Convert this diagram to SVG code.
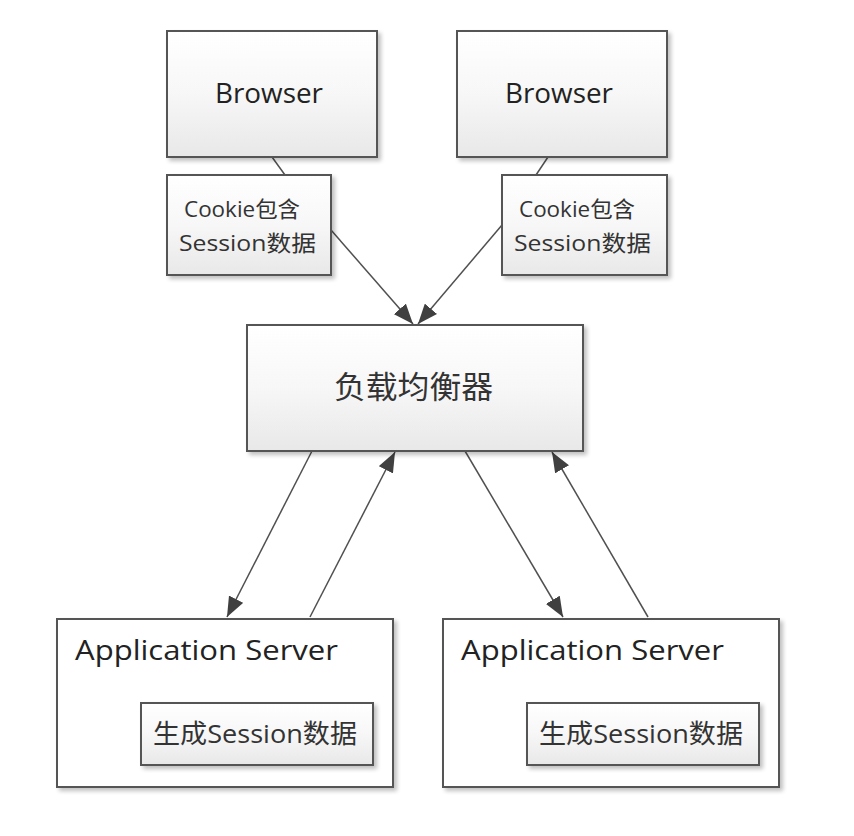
<svg xmlns="http://www.w3.org/2000/svg" width="854" height="836" viewBox="0 0 854 836">
<defs>
<linearGradient id="g" x1="0" y1="0" x2="0" y2="1">
<stop offset="0" stop-color="#ffffff"/>
<stop offset="0.5" stop-color="#f7f7f7"/>
<stop offset="1" stop-color="#e8e8e8"/>
</linearGradient>
<filter id="sh" x="-10%" y="-10%" width="130%" height="130%">
<feGaussianBlur in="SourceAlpha" stdDeviation="2"/>
<feOffset dx="3" dy="3"/>
<feComponentTransfer><feFuncA type="linear" slope="0.25"/></feComponentTransfer>
<feMerge><feMergeNode/><feMergeNode in="SourceGraphic"/></feMerge>
</filter>
<marker id="ah2" viewBox="0 0 20 16" refX="20" refY="8" markerWidth="20" markerHeight="16" markerUnits="userSpaceOnUse" orient="auto">
<path d="M0,0 L20,8 L0,16 Z" fill="#404040"/>
</marker>
</defs>
<style>
.box{fill:url(#g);stroke:#555;stroke-width:2;filter:url(#sh)}
.plain{fill:#fff;stroke:#555;stroke-width:2;filter:url(#sh)}
.t{font-family:"Open Sans","Noto Sans CJK SC",sans-serif;fill:#222}
.c{font-family:"Open Sans","Noto Sans CJK SC",sans-serif;fill:#333}
.ln{stroke:#505050;stroke-width:1.5;fill:none}
.arr{stroke:#505050;stroke-width:1.5;fill:none;marker-end:url(#ah2)}
</style>
<rect width="854" height="836" fill="#fff"/>
<g id="connectors">
<line class="ln" x1="272" y1="157" x2="285" y2="175"/>
<line class="ln" x1="548" y1="157" x2="536" y2="175"/>
<line class="arr" x1="331" y1="230" x2="413" y2="324"/>
<line class="arr" x1="502" y1="225" x2="418" y2="324"/>
<line class="arr" x1="312" y1="451" x2="227" y2="617"/>
<line class="arr" x1="310" y1="617" x2="395" y2="452"/>
<line class="arr" x1="465" y1="451" x2="563" y2="617"/>
<line class="arr" x1="648" y1="617" x2="552" y2="452"/>
</g>
<g id="browser1">
<rect class="box" x="167" y="31" width="210" height="126"/>
<text class="t" x="215" y="103" font-size="27" textLength="108" lengthAdjust="spacingAndGlyphs">Browser</text>
</g>
<g id="browser2">
<rect class="box" x="457" y="31" width="210" height="126"/>
<text class="t" x="505" y="103" font-size="27" textLength="108" lengthAdjust="spacingAndGlyphs">Browser</text>
</g>
<g id="cookie1">
<rect class="box" x="167" y="175" width="164" height="100"/>
<text class="c" x="184" y="217" font-size="22" textLength="116" lengthAdjust="spacingAndGlyphs">Cookie包含</text>
<text class="c" x="179" y="251" font-size="22" textLength="137" lengthAdjust="spacingAndGlyphs">Session数据</text>
</g>
<g id="cookie2">
<rect class="box" x="502" y="175" width="165" height="100"/>
<text class="c" x="519" y="217" font-size="22" textLength="116" lengthAdjust="spacingAndGlyphs">Cookie包含</text>
<text class="c" x="514" y="251" font-size="22" textLength="137" lengthAdjust="spacingAndGlyphs">Session数据</text>
</g>
<g id="lb">
<rect class="box" x="247" y="325" width="336" height="126"/>
<text class="c" x="334" y="398" font-size="31" textLength="159" lengthAdjust="spacingAndGlyphs">负载均衡器</text>
</g>
<g id="app1">
<rect class="plain" x="57" y="619" width="336" height="168"/>
<text class="t" x="75" y="660" font-size="28" textLength="263" lengthAdjust="spacingAndGlyphs">Application Server</text>
<rect class="box" x="141" y="703" width="232" height="62"/>
<text class="c" x="153" y="743" font-size="26" textLength="204" lengthAdjust="spacingAndGlyphs">生成Session数据</text>
</g>
<g id="app2">
<rect class="plain" x="443" y="619" width="336" height="168"/>
<text class="t" x="461" y="660" font-size="28" textLength="263" lengthAdjust="spacingAndGlyphs">Application Server</text>
<rect class="box" x="527" y="703" width="232" height="62"/>
<text class="c" x="539" y="743" font-size="26" textLength="204" lengthAdjust="spacingAndGlyphs">生成Session数据</text>
</g>
</svg>
